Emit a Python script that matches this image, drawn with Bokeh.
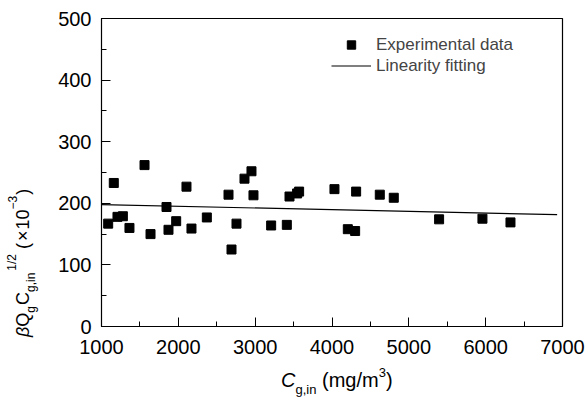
from bokeh.plotting import figure
from bokeh.layouts import row, column
from bokeh.models import Legend, LegendItem, SingleIntervalTicker, Range1d, Div
from bokeh.embed import file_html
from bokeh.resources import INLINE

# ---- data ----
c_in = [1087, 1160, 1208, 1278, 1364, 1560, 1638, 1846, 1872, 1972, 2106, 2171,
        2371, 2653, 2692, 2757, 2861, 2952, 2978, 3208, 3412, 3447, 3546, 3572,
        4032, 4206, 4301, 4314, 4622, 4804, 5394, 5958, 6323]
beta_q = [167, 233, 178, 179, 160, 262, 150, 194, 157, 171, 227, 159,
          177, 214, 125, 167, 240, 252, 213, 164, 165, 211, 216, 219,
          223, 158, 155, 219, 214, 209, 174, 175, 169]
fit_x = [1000, 6930]
fit_y = [198, 181.5]
x_ticks_interval = 1000
y_ticks_interval = 100

FONT = "Liberation Sans"
YDIV_W = 45

p = figure(frame_width=461, frame_height=308,
           x_range=Range1d(1000, 7000), y_range=Range1d(0, 500),
           output_backend="svg", toolbar_location=None,
           min_border_left=101 - YDIV_W, min_border_right=23,
           min_border_top=18, min_border_bottom=36)
p.grid.visible = False
p.outline_line_color = "black"
p.outline_line_width = 1.2
p.background_fill_color = "white"
p.border_fill_color = "white"

p.xaxis.ticker = SingleIntervalTicker(interval=x_ticks_interval, num_minor_ticks=2)
p.yaxis.ticker = SingleIntervalTicker(interval=y_ticks_interval, num_minor_ticks=2)
for ax in (p.xaxis[0], p.yaxis[0]):
    ax.major_tick_in = 9
    ax.major_tick_out = 0
    ax.minor_tick_in = 5
    ax.minor_tick_out = 0
    ax.axis_line_color = "black"
    ax.major_tick_line_color = "black"
    ax.minor_tick_line_color = "black"
    ax.major_label_text_font = FONT
    ax.major_label_text_font_size = "20px"
    ax.major_label_text_color = "black"
p.xaxis.major_label_standoff = 13
p.yaxis.major_label_standoff = 10

sc = p.scatter(c_in, beta_q, marker="square", size=9, color="black")
ln = p.line(fit_x, fit_y, color="black", line_width=1.2)

legend = Legend(items=[LegendItem(label="Experimental data", renderers=[sc]),
                       LegendItem(label="Linearity fitting", renderers=[ln])],
                location=(230, 250), glyph_width=40, glyph_height=21,
                label_height=21, label_standoff=5, spacing=0, padding=0,
                margin=0, border_line_color=None, background_fill_alpha=0,
                label_text_font=FONT, label_text_font_size="17px")
p.add_layout(legend)

SUB = "font-size:13px;line-height:0;vertical-align:{}px"
x_html = (
    '<div style="padding-left:236px;padding-top:7px;font-family:\'Liberation Sans\';'
    'font-size:20px;line-height:22px;white-space:nowrap;color:#000">'
    '<i>C</i><span style="' + SUB.format(-7) + '">g,in</span> (mg/m'
    '<span style="' + SUB.format(10) + '">3</span>)</div>'
)
SM = "font-size:12px;line-height:0;vertical-align:{}px"
y_html = (
    '<div style="position:relative;left:12px;top:337px;width:230px;'
    'transform:rotate(-90deg);transform-origin:0 0;font-family:\'Liberation Sans\';'
    'font-size:18px;line-height:20px;white-space:nowrap;color:#000">'
    '<i>β</i>Q<span style="' + SM.format(-6) + '">g</span>'
    '<span style="margin-left:1px">C</span>'
    '<span style="' + SM.format(-6) + '">g,in</span>'
    '<span style="' + SM.format(13) + ';margin-left:2px">1/2</span>'
    ' (<span style="margin:0 1px 0 2px">×</span>10'
    '<span style="' + SM.format(12) + '">−3</span>'
    '<span style="margin-left:1px">)</span></div>'
)

xdiv = Div(text=x_html, width=p.min_border_left + 461 + 23, height=38, margin=(0, 0, 0, 0))
ydiv = Div(text=y_html, width=YDIV_W, height=400, margin=(0, 0, 0, 0))

layout = row(ydiv, column(p, xdiv, spacing=0), spacing=0)

open("out.html", "w").write(file_html(layout, INLINE))
